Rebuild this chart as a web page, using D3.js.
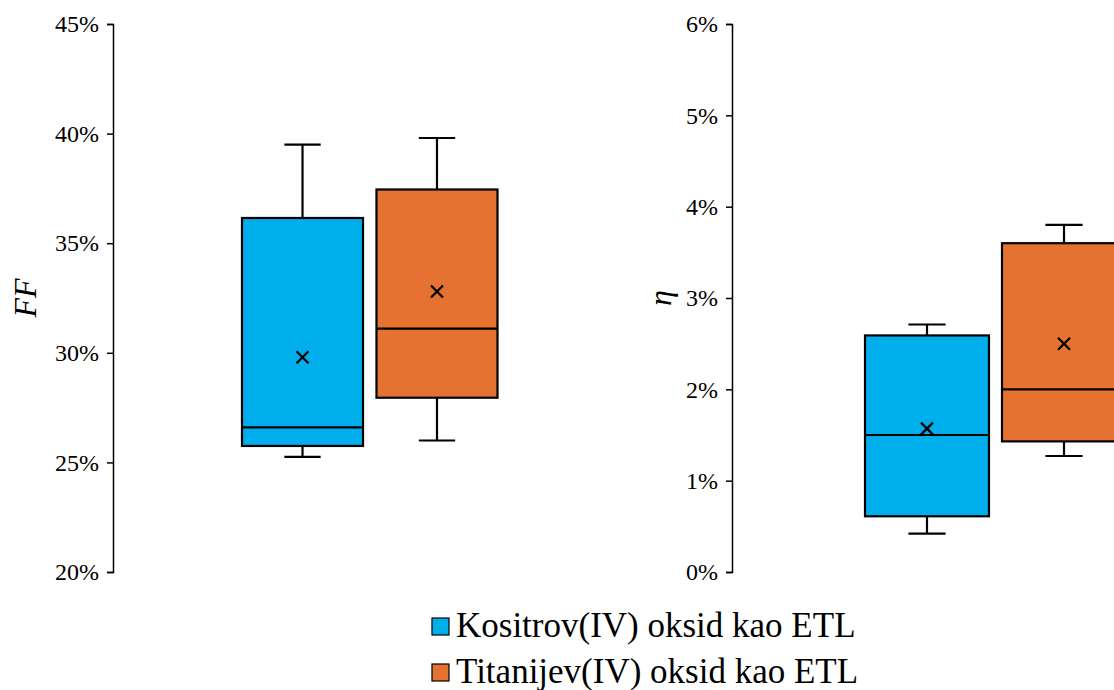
<!DOCTYPE html>
<html><head><meta charset="utf-8">
<script src="https://cdn.jsdelivr.net/npm/d3@7/dist/d3.min.js"></script>
<style>body{margin:0;background:#fff}svg{display:block}</style>
</head><body>
<svg id="c" width="1114" height="690"></svg>
<script>
const series = ["Kositrov(IV) oksid kao ETL", "Titanijev(IV) oksid kao ETL"];
const colors = ["#00AEEB", "#E57230"];
// FF panel values (%)
const ffMin = [25.25, 26.0];
const ffQ1 = [25.75, 27.95];
const ffMedian = [26.6, 31.1];
const ffQ3 = [36.15, 37.45];
const ffMax = [39.5, 39.8];
const ffMean = [29.8, 32.8];
const ffTicks = [20, 25, 30, 35, 40, 45];
// eta panel values (%)
const etaMin = [0.42, 1.27];
const etaQ1 = [0.61, 1.43];
const etaMedian = [1.5, 2.0];
const etaQ3 = [2.59, 3.6];
const etaMax = [2.71, 3.8];
const etaMean = [1.57, 2.5];
const etaTicks = [0, 1, 2, 3, 4, 5, 6];

const svg = d3.select("#c");
const font = "'Liberation Serif', 'Times New Roman', serif";
const plotTop = 24, plotBottom = 572;

function panel(opts) {
  const g = svg.append("g");
  const y = d3.scaleLinear().domain(opts.domain).range([plotBottom, plotTop]);
  const x = d3.scaleBand().domain(series).range(opts.xr).paddingInner(opts.pad).paddingOuter(0);
  const ax = g.append("g").attr("transform", `translate(${opts.axisX},0)`)
    .call(d3.axisLeft(y).tickValues(opts.ticks).tickFormat(d => d + "%").tickSize(6).tickPadding(8));
  ax.attr("font-family", null).attr("font-size", null);
  ax.select(".domain").attr("stroke", "#000").attr("stroke-width", 1.5);
  ax.selectAll(".tick line").attr("stroke", "#000").attr("stroke-width", 1.5);
  ax.selectAll(".tick text").attr("fill", "#000").style("font-family", font).style("font-size", "24px");
  g.append("text")
    .attr("transform", `translate(${opts.labelX},${(plotTop + plotBottom) / 2}) rotate(-90)`)
    .attr("text-anchor", "middle").attr("dy", "0.35em")
    .style("font-family", font).style("font-style", "italic").style("font-size", "32px")
    .text(opts.label);
  const d = opts.data;
  series.forEach((s, i) => {
    const bx = x(s), bw = x.bandwidth(), cx = bx + bw / 2, cap = bw * 0.3;
    const bg = g.append("g").attr("stroke", "#000").attr("stroke-width", 2.2);
    bg.append("line").attr("x1", cx).attr("x2", cx).attr("y1", y(d.max[i])).attr("y2", y(d.q3[i]));
    bg.append("line").attr("x1", cx).attr("x2", cx).attr("y1", y(d.q1[i])).attr("y2", y(d.min[i]));
    bg.append("line").attr("x1", cx - cap / 2).attr("x2", cx + cap / 2).attr("y1", y(d.max[i])).attr("y2", y(d.max[i]));
    bg.append("line").attr("x1", cx - cap / 2).attr("x2", cx + cap / 2).attr("y1", y(d.min[i])).attr("y2", y(d.min[i]));
    bg.append("rect").attr("x", bx).attr("width", bw).attr("y", y(d.q3[i])).attr("height", y(d.q1[i]) - y(d.q3[i]))
      .attr("fill", colors[i]);
    bg.append("line").attr("x1", bx).attr("x2", bx + bw).attr("y1", y(d.med[i])).attr("y2", y(d.med[i]));
    const my = y(d.mean[i]), m = 6;
    bg.append("path").attr("d", `M${cx - m},${my - m}L${cx + m},${my + m}M${cx - m},${my + m}L${cx + m},${my - m}`).attr("fill", "none");
  });
}

panel({domain: [20, 45], ticks: ffTicks, axisX: 113, xr: [242, 497.5], pad: 0.1, labelX: 25, label: "FF",
  data: {min: ffMin, q1: ffQ1, med: ffMedian, q3: ffQ3, max: ffMax, mean: ffMean}});
panel({domain: [0, 6], ticks: etaTicks, axisX: 732, xr: [865, 1126], pad: 0.095, labelX: 660, label: "η",
  data: {min: etaMin, q1: etaQ1, med: etaMedian, q3: etaQ3, max: etaMax, mean: etaMean}});

const leg = svg.append("g");
series.forEach((s, i) => {
  const ly = 627 + i * 46;
  leg.append("rect").attr("x", 432).attr("y", ly - 9).attr("width", 17).attr("height", 17)
    .attr("fill", colors[i]).attr("stroke", "#000").attr("stroke-width", 1.2);
  leg.append("text").attr("x", 456).attr("y", ly + 10)
    .style("font-family", font).style("font-size", "35px").attr("fill", "#000").text(s);
});
</script>
</body></html>
